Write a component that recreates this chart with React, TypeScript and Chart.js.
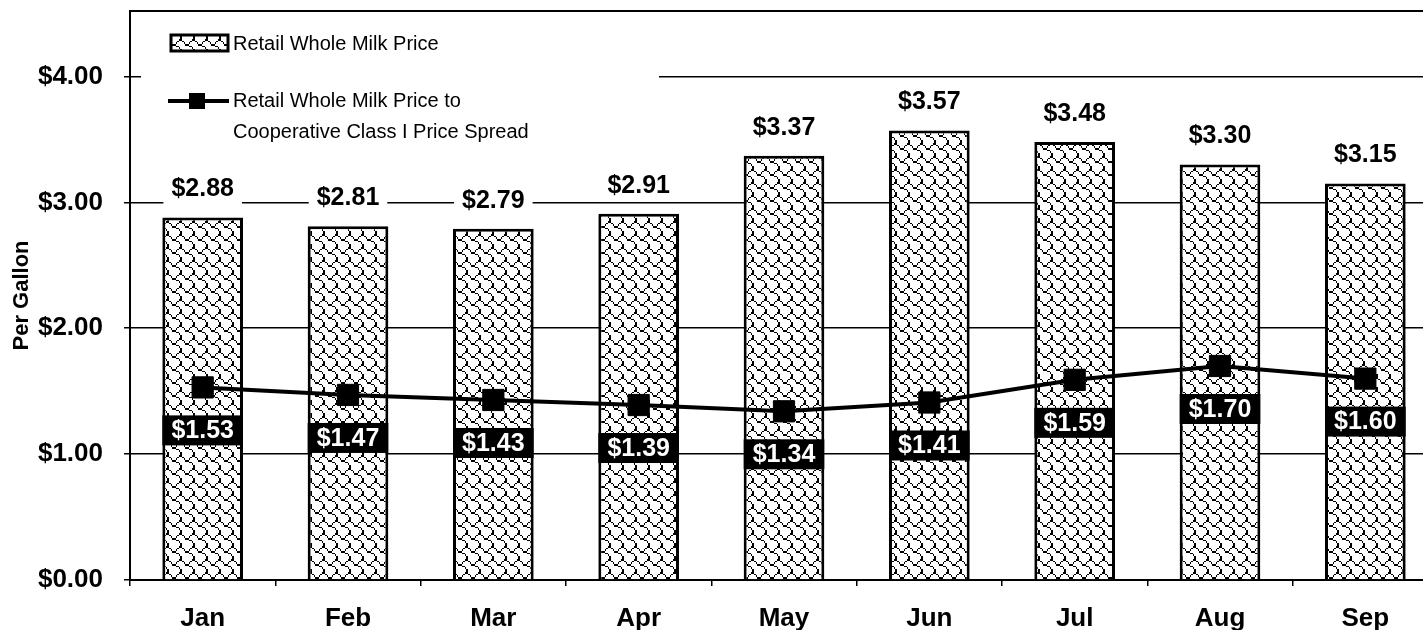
import React, { useEffect, useRef } from 'react';
import { Chart, registerables } from 'chart.js';

Chart.register(...registerables);

const categories = ['Jan', 'Feb', 'Mar', 'Apr', 'May', 'Jun', 'Jul', 'Aug', 'Sep'];
const retailPrice = [2.88, 2.81, 2.79, 2.91, 3.37, 3.57, 3.48, 3.3, 3.15];
const priceSpread = [1.53, 1.47, 1.43, 1.39, 1.34, 1.41, 1.59, 1.7, 1.6];
const retailLabel = 'Retail Whole Milk Price';
const spreadLabel = ['Retail Whole Milk Price to', 'Cooperative Class I Price Spread'];
const yAxisTitle = 'Per Gallon';
const yMin = 0;
const yMax = 4.52;
const yStep = 1;

const FONT = '"Liberation Sans", Arial, Helvetica, sans-serif';
const SHINGLE = [0x03, 0x84, 0x48, 0x30, 0x0c, 0x02, 0x01, 0x01];

const money = (v: number) => '$' + v.toFixed(2);

function makePattern(ctx: CanvasRenderingContext2D) {
  const size = 13;
  const c = document.createElement('canvas');
  c.width = size;
  c.height = size;
  const t = c.getContext('2d')!;
  t.fillStyle = '#fff';
  t.fillRect(0, 0, size, size);
  t.fillStyle = '#000';
  const s = size / 8;
  for (let r = 0; r < 8; r++) {
    for (let b = 0; b < 8; b++) {
      if (SHINGLE[r] & (0x80 >> b)) {
        const x0 = Math.round(b * s);
        const x1 = Math.round((b + 1) * s);
        const y0 = Math.round(r * s);
        const y1 = Math.round((r + 1) * s);
        t.fillRect(x0, y0, Math.max(1, x1 - x0), Math.max(1, y1 - y0));
      }
    }
  }
  return ctx.createPattern(c, 'repeat')!;
}

export default function App() {
  const ref = useRef<HTMLCanvasElement | null>(null);

  useEffect(() => {
    const canvas = ref.current!;
    const ctx0 = canvas.getContext('2d')!;
    const pattern = makePattern(ctx0);

    const plugin = {
      id: 'customDecor',
      beforeDatasetsDraw(chart: any) {
        const ctx = chart.ctx as CanvasRenderingContext2D;
        const area = chart.chartArea;
        ctx.save();
        // top border
        ctx.strokeStyle = '#000';
        ctx.lineWidth = 2;
        ctx.beginPath();
        ctx.moveTo(area.left - 1, area.top);
        ctx.lineTo(area.right, area.top);
        ctx.stroke();
        // legend box
        ctx.fillStyle = '#fff';
        ctx.fillRect(141, area.top + 2, 518, 138);
        // entry 1
        ctx.fillStyle = pattern;
        ctx.fillRect(171, 35, 57, 16);
        ctx.strokeStyle = '#000';
        ctx.lineWidth = 3;
        ctx.strokeRect(171, 35, 57, 16);
        ctx.fillStyle = '#000';
        ctx.font = `20px ${FONT}`;
        ctx.textAlign = 'left';
        ctx.textBaseline = 'middle';
        ctx.fillText(retailLabel, 233, 44);
        // entry 2
        ctx.lineWidth = 4;
        ctx.beginPath();
        ctx.moveTo(168, 101);
        ctx.lineTo(229, 101);
        ctx.stroke();
        ctx.fillRect(189, 93, 16, 16);
        ctx.fillText(spreadLabel[0], 233, 101);
        ctx.fillText(spreadLabel[1], 233, 132);
        ctx.restore();
      },
      afterDatasetsDraw(chart: any) {
        const ctx = chart.ctx as CanvasRenderingContext2D;
        const barMeta = chart.getDatasetMeta(1);
        const lineMeta = chart.getDatasetMeta(0);
        ctx.save();
        ctx.font = `bold 25px ${FONT}`;
        ctx.textAlign = 'center';
        ctx.textBaseline = 'middle';
        barMeta.data.forEach((bar: any, i: number) => {
          const txt = money(retailPrice[i]);
          const w = ctx.measureText(txt).width + 16;
          const cy = bar.y - 29;
          ctx.fillStyle = '#fff';
          ctx.fillRect(bar.x - w / 2, cy - 16, w, 32);
          ctx.fillStyle = '#000';
          ctx.fillText(txt, bar.x, cy + 1);
        });
        lineMeta.data.forEach((pt: any, i: number) => {
          const txt = money(priceSpread[i]);
          const bw = barMeta.data[i].width;
          const cy = pt.y + 43;
          ctx.fillStyle = '#000';
          ctx.fillRect(pt.x - bw / 2, cy - 15, bw, 30);
          ctx.fillStyle = '#fff';
          ctx.fillText(txt, pt.x, cy + 1);
        });
        ctx.restore();
      },
    };

    const chart = new Chart(canvas, {
      type: 'bar',
      data: {
        labels: categories,
        datasets: [
          {
            type: 'line',
            label: spreadLabel.join(' '),
            data: priceSpread,
            borderColor: '#000',
            backgroundColor: '#000',
            borderWidth: 4,
            pointStyle: 'rect',
            pointRadius: 15,
            pointBorderWidth: 1,
            pointBackgroundColor: '#000',
            pointBorderColor: '#000',
            tension: 0,
            order: 0,
          } as any,
          {
            type: 'bar',
            label: retailLabel,
            data: retailPrice,
            backgroundColor: pattern as any,
            borderColor: '#000',
            borderWidth: 3,
            categoryPercentage: 1,
            barPercentage: 0.555,
            order: 1,
          } as any,
        ],
      },
      options: {
        responsive: false,
        animation: false,
        events: [],
        layout: { autoPadding: false, padding: { top: 11, right: 2, left: 0, bottom: 0 } },
        plugins: {
          legend: { display: false },
          tooltip: { enabled: false },
          title: { display: false },
        },
        scales: {
          x: {
            grid: {
              display: true,
              drawOnChartArea: false,
              drawTicks: true,
              offset: true,
              tickLength: 6,
              color: '#000',
              lineWidth: 1.5,
            },
            border: { display: true, color: '#000', width: 2 },
            ticks: {
              color: '#000',
              font: { family: FONT, size: 26, weight: 'bold' },
              padding: 17,
              maxRotation: 0,
            },
            afterFit(scale: any) {
              scale.height = 50;
              scale.paddingLeft = 0;
              scale.paddingRight = 0;
            },
          },
          y: {
            min: yMin,
            max: yMax,
            grid: {
              color: '#000',
              lineWidth: 1.5,
              tickLength: 6,
              drawTicks: true,
            },
            border: { display: true, color: '#000', width: 2 },
            ticks: {
              stepSize: yStep,
              includeBounds: false,
              color: '#000',
              font: { family: FONT, size: 26, weight: 'bold', lineHeight: 0.5 },
              padding: 21,
              callback: (v: any) => money(Number(v)),
            },
            title: {
              display: true,
              text: yAxisTitle,
              color: '#000',
              font: { family: FONT, size: 22, weight: 'bold', lineHeight: 1.2 },
              padding: { top: 9, bottom: 0 },
            },
            afterFit(scale: any) {
              scale.width = 130;
              scale.paddingTop = 0;
              scale.paddingBottom = 0;
            },
          },
        },
      } as any,
      plugins: [plugin],
    });

    return () => chart.destroy();
  }, []);

  return (
    <div
      style={{
        position: 'fixed',
        left: 0,
        top: 0,
        width: 1423,
        height: 630,
        overflow: 'hidden',
        background: '#fff',
      }}
    >
      <canvas ref={ref} width={1440} height={630} style={{ display: 'block', width: 1440, height: 630 }} />
    </div>
  );
}
